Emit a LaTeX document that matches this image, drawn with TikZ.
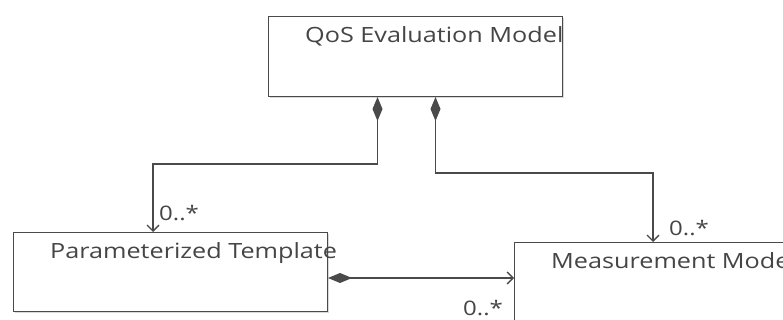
\documentclass[tikz,border=0pt]{standalone}
\usepackage{fontspec}
\setmainfont{Open Sans}[FakeStretch=1.2]
\usetikzlibrary{arrows.meta,shadows}
\definecolor{linegray}{HTML}{4A4A4A}
\definecolor{textgray}{HTML}{454545}
\begin{document}
\begin{tikzpicture}[x=1pt,y=-1pt]
      \tikzstyle{classbox} = [rectangle, anchor=north west, draw=linegray, line width=1pt, fill=white, drop shadow={shadow xshift=1.5pt, shadow yshift=-1.5pt, opacity=0.3, fill=gray}]
      \tikzstyle{classname} = [anchor=base west, inner sep=0pt, text=textgray, font=\fontsize{21}{24}\selectfont]
      \tikzstyle{mult} = [anchor=base west, inner sep=0pt, text=textgray, font=\fontsize{20}{22}\selectfont]
      \tikzstyle{comp} = [line width=1.3pt, draw=linegray, {Diamond[length=24pt,width=10pt,fill=linegray]}-{Straight Barb[length=6pt,width=12pt]}]

      \useasboundingbox (0,0) rectangle (783,320);
      \clip (0,0) rectangle (783,320);

      \node (qos) [classbox, minimum width=294pt, minimum height=80pt] at (268,16) {};
      \node (param) [classbox, minimum width=314pt, minimum height=79pt] at (13,232) {};
      \node (meas) [classbox, minimum width=330pt, minimum height=82pt] at (514,242) {};

      \node (qosname) [classname] at (305,43) {QoS Evaluation Model};
      \node (paramname) [classname] at (50,258) {Parameterized Template};
      \node (measname) [classname] at (551,268) {Measurement Model};

      \coordinate (bendl) at (153,164);
      \coordinate (bendr) at (653,173);
      \coordinate (hline) at (327,278);

      \draw [comp] ([xshift=-38pt]qos.south) |- (bendl) -- (bendl |- param.north);
      \draw [comp] ([xshift=20pt]qos.south) |- (bendr) -- (bendr |- meas.north);
      \draw [comp] (param.east |- hline) -- (meas.west |- hline);

      \node (multl) [mult] at (159,220) {0..*};
      \node (multr) [mult] at (669,235) {0..*};
      \node (multb) [mult] at (463,315) {0..*};
\end{tikzpicture}
\end{document}
